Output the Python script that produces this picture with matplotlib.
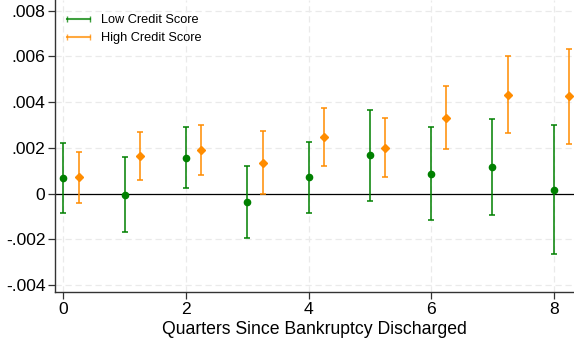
import matplotlib.pyplot as plt
from matplotlib.lines import Line2D
from matplotlib.ticker import FuncFormatter
import numpy as np

plt.rcParams['font.family'] = ['Liberation Sans', 'DejaVu Sans']

quarters = [0, 1, 2, 3, 4, 5, 6, 7, 8]

# point estimates and 95% bands
low_est = [0.00068, -0.00007, 0.00155, -0.00037, 0.00071, 0.00167, 0.00085, 0.00115, 0.00017]
low_hi = [0.00222, 0.00160, 0.00290, 0.00120, 0.00227, 0.00365, 0.00290, 0.00326, 0.00300]
low_lo = [-0.00085, -0.00170, 0.00024, -0.00195, -0.00084, -0.00031, -0.00117, -0.00095, -0.00266]

high_est = [0.00071, 0.00164, 0.00190, 0.00135, 0.00247, 0.00200, 0.00332, 0.00432, 0.00425]
high_hi = [0.00183, 0.00270, 0.00300, 0.00274, 0.00373, 0.00332, 0.00469, 0.00600, 0.00632]
high_lo = [-0.00043, 0.00059, 0.00081, -0.00002, 0.00120, 0.00071, 0.00193, 0.00263, 0.00218]

green = '#008000'
orange = '#ff8c00'

fig = plt.figure(figsize=(5.74, 3.48), dpi=100)
ax = fig.add_axes([0.096, 0.16, 0.904, 0.84])

x = np.array(quarters, dtype=float)
for xs, est, lo, hi, col, mk, ms in [(x, low_est, low_lo, low_hi, green, 'o', 4.5),
                                     (x + 0.25, high_est, high_lo, high_hi, orange, 'D', 4.2)]:
    est = np.array(est)
    yerr = [est - np.array(lo), np.array(hi) - est]
    ax.errorbar(xs, est, yerr=yerr, fmt=mk, color=col, ms=ms, ecolor=col,
                elinewidth=1.1, capsize=2.5, capthick=1.1, zorder=3)

ax.axhline(0, color='black', lw=0.9, zorder=2)

ax.set_xlim(-0.135, 8.33)
ax.set_ylim(-0.00432, 0.00847)
ax.set_xticks([0, 2, 4, 6, 8])
ax.set_yticks([-0.004, -0.002, 0, 0.002, 0.004, 0.006, 0.008])

def fmt(v, pos):
    if abs(v) < 1e-12:
        return '0'
    s = '%.3f' % v
    return s.replace('0.', '.')

ax.yaxis.set_major_formatter(FuncFormatter(fmt))
ax.tick_params(axis='both', labelsize=12.6, length=5, width=0.9, color='#333333',
               direction='out', pad=2)
ax.grid(True, color='#eaeaea', ls=(0, (5, 3)), lw=0.9)
ax.set_axisbelow(True)

for s in ['top', 'right']:
    ax.spines[s].set_visible(False)
for s in ['left', 'bottom']:
    ax.spines[s].set_color('#333333')
    ax.spines[s].set_linewidth(1.0)

ax.set_xlabel('Quarters Since Bankruptcy Discharged', fontsize=12.7, labelpad=3)

handles = [Line2D([0], [0], color=green, marker='|', ms=5, lw=1.5, alpha=0.75),
           Line2D([0], [0], color=orange, marker='|', ms=5, lw=1.5, alpha=0.75)]
ax.legend(handles, ['Low Credit Score', 'High Credit Score'], loc='upper left',
          frameon=False, fontsize=9.2, numpoints=2, handlelength=2.4, handletextpad=0.5,
          bbox_to_anchor=(-0.006, 0.99), borderaxespad=0.5, labelspacing=0.45)

fig.savefig('out.png', dpi=100)
